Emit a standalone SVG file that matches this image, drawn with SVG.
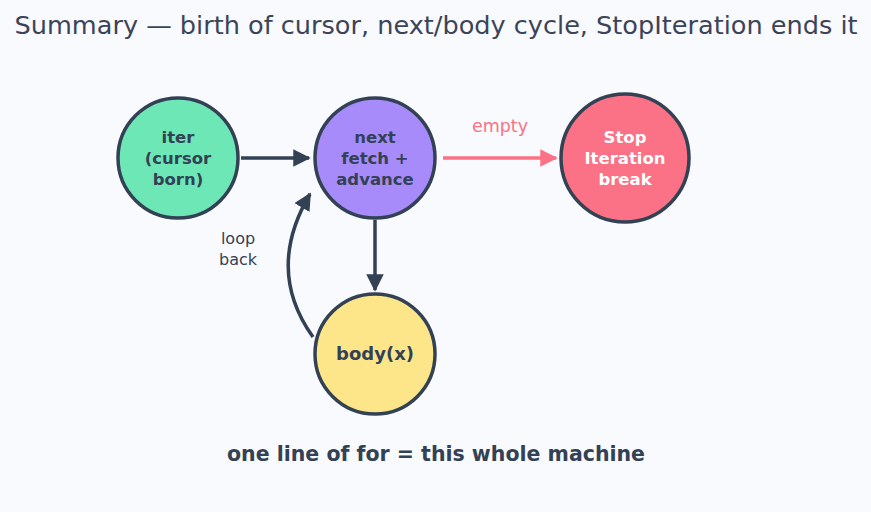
<svg xmlns="http://www.w3.org/2000/svg" width="871" height="512" viewBox="0 0 871 512">
<style>
.bg{fill:#f9fafd}
.node{stroke:#334155;stroke-width:3.5}
.lbl{font-family:"DejaVu Sans",sans-serif;font-weight:bold;font-size:16.5px;text-anchor:middle;fill:#334155}
.wl{fill:#ffffff}
.edge{fill:none;stroke:#334155;stroke-width:3.5}
.red{stroke:#fb7185}
.note{font-family:"DejaVu Sans",sans-serif;font-size:16px;text-anchor:middle;fill:#334155}
</style>
<defs>
<marker id="ah" viewBox="0 0 10 10" refX="9" refY="5" markerWidth="5" markerHeight="5" markerUnits="strokeWidth" orient="auto">
<path d="M0,0 L10,5 L0,10 z" fill="#334155"/>
</marker>
<marker id="ahr" viewBox="0 0 10 10" refX="9" refY="5" markerWidth="5" markerHeight="5" markerUnits="strokeWidth" orient="auto">
<path d="M0,0 L10,5 L0,10 z" fill="#fb7185"/>
</marker>
</defs>
<rect class="bg" x="0" y="0" width="871" height="512"/>
<text x="436" y="34" font-family="DejaVu Sans Condensed, DejaVu Sans, sans-serif" font-stretch="condensed" font-size="25" fill="#3b4458" text-anchor="middle" textLength="843" lengthAdjust="spacingAndGlyphs">Summary — birth of cursor, next/body cycle, StopIteration ends it</text>
<g id="connectors">
<path class="edge" d="M241,158 L309,158" marker-end="url(#ah)"/>
<path class="edge red" d="M443,158 L556,158" marker-end="url(#ahr)"/>
<text x="500" y="132" font-family="DejaVu Sans, sans-serif" font-size="17.5" fill="#fb7185" text-anchor="middle">empty</text>
<path class="edge" d="M375,220 L375,290" marker-end="url(#ah)"/>
<path class="edge" d="M313,337 Q265,270 310,194" marker-end="url(#ah)"/>
<text class="note" x="238" y="244">loop</text>
<text class="note" x="238" y="265">back</text>
</g>
<g id="iter">
<circle class="node" cx="178" cy="158" r="60" fill="#6ee7b7"/>
<text class="lbl" x="178" y="143">iter</text>
<text class="lbl" x="178" y="164">(cursor</text>
<text class="lbl" x="178" y="185">born)</text>
</g>
<g id="next">
<circle class="node" cx="375" cy="158" r="60" fill="#a78bfa"/>
<text class="lbl" x="375" y="143">next</text>
<text class="lbl" x="375" y="164">fetch +</text>
<text class="lbl" x="375" y="185">advance</text>
</g>
<g id="stop">
<circle class="node" cx="625" cy="158" r="64" fill="#fb7185"/>
<text class="lbl wl" x="625" y="143">Stop</text>
<text class="lbl wl" x="625" y="164">Iteration</text>
<text class="lbl wl" x="625" y="185">break</text>
</g>
<g id="body">
<circle class="node" cx="375" cy="354" r="60" fill="#fde68a"/>
<text class="lbl" x="375" y="360" style="font-size:18px">body(x)</text>
</g>
<text x="436" y="461" font-family="DejaVu Sans, sans-serif" font-size="20.5" font-weight="bold" fill="#334155" text-anchor="middle">one line of for = this whole machine</text>
</svg>
